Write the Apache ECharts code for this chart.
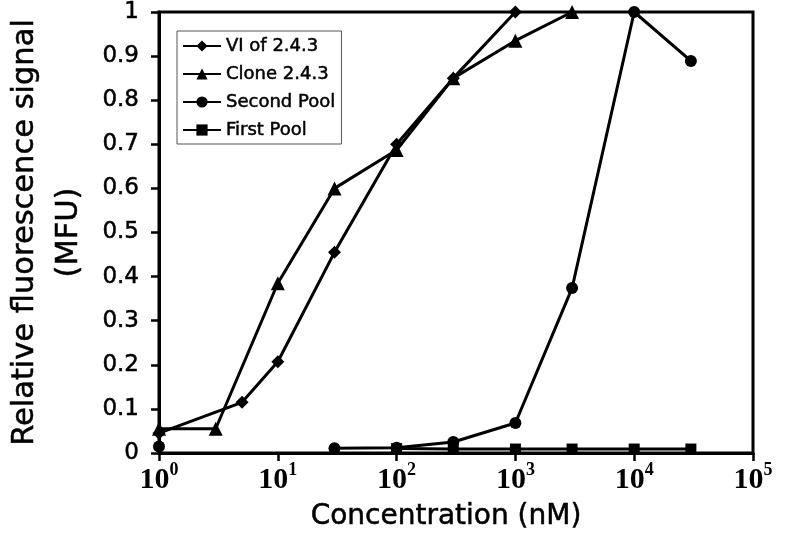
<!DOCTYPE html>
<html>
<head>
<meta charset="utf-8">
<script src="https://cdn.jsdelivr.net/npm/echarts@6/dist/echarts.min.js"></script>
<style>
html, body { margin: 0; padding: 0; background: #fff; }
#chart { width: 789px; height: 540px; }
</style>
</head>
<body>
<div id="chart"></div>
<script>
// concentrations (nM) and relative signal per series
const seriesNames = ['VI of 2.4.3', 'Clone 2.4.3', 'Second Pool', 'First Pool']

const xVI = [1, 5, 10, 30, 100, 300, 1000]
const yVI = [0.045, 0.115, 0.207, 0.455, 0.70, 0.85, 1.0]

const xClone = [1, 3, 10, 30, 100, 300, 1000, 3000]
const yClone = [0.055, 0.055, 0.385, 0.60, 0.687, 0.85, 0.935, 1.0]

// '-' marks the gap between the lone 1 nM point and the rest
const xSecond = [1, 5, 30, 100, 300, 1000, 3000, 10000, 30000]
const ySecond = [0.015, '-', 0.011, 0.012, 0.025, 0.068, 0.374, 1.0, 0.889]

const xFirst = [100, 300, 1000, 3000, 10000, 30000]
const yFirst = [0.01, 0.009, 0.009, 0.009, 0.009, 0.009]

const symbols = ['diamond', 'triangle', 'circle', 'rect']
const symbolSizes = [13, 14, 12, 11]

const zip = (xs, ys) => xs.map((x, i) => [x, ys[i]])
const seriesData = [zip(xVI, yVI), zip(xClone, yClone), zip(xSecond, ySecond), zip(xFirst, yFirst)]

// the original's sans text is a touch heavier than DejaVu regular
const heavy = { fontFamily: 'DejaVu Sans', color: '#000', textBorderColor: '#000', textBorderWidth: 0.5 }

const chart = echarts.init(document.getElementById('chart'))

chart.setOption({
    animation: false,
    backgroundColor: '#fff',
    grid: {
        left: 159, right: 36, top: 12, bottom: 87,
        outerBoundsMode: 'none',
        containLabel: false,
        show: true,
        borderColor: '#000',
        borderWidth: 3
    },
    legend: {
        data: seriesNames,
        orient: 'vertical',
        left: 177,
        top: 31,
        padding: [5, 6, 4, 5],
        itemGap: 8,
        itemWidth: 38,
        itemHeight: 14,
        borderColor: '#555',
        borderWidth: 1,
        backgroundColor: '#fff',
        textStyle: Object.assign({}, heavy, { fontSize: 18, lineHeight: 20 })
    },
    xAxis: {
        type: 'log',
        logBase: 10,
        min: 1,
        max: 100000,
        splitLine: { show: false },
        minorTick: { show: false },
        axisLine: { lineStyle: { color: '#000', width: 3 } },
        axisTick: { length: 8, lineStyle: { color: '#000', width: 2.5 } },
        axisLabel: {
            margin: 8,
            formatter: function (v) {
                return '{b|10}{s|' + Math.round(Math.log10(v)) + '}'
            },
            rich: {
                b: { fontFamily: 'Liberation Serif', fontWeight: 'bold', fontSize: 30, color: '#000', lineHeight: 34, verticalAlign: 'bottom' },
                s: { fontFamily: 'Liberation Serif', fontWeight: 'bold', fontSize: 18, color: '#000', lineHeight: 18, verticalAlign: 'top' }
            }
        },
        name: 'Concentration (nM)',
        nameLocation: 'middle',
        nameGap: 50,
        nameTextStyle: Object.assign({}, heavy, { fontSize: 28, padding: [0, 20, 0, 0] })
    },
    yAxis: {
        type: 'value',
        min: 0,
        max: 1,
        interval: 0.1,
        splitLine: { show: false },
        axisLine: { show: true, lineStyle: { color: '#000', width: 3 } },
        axisTick: { show: true, length: 8, lineStyle: { color: '#000', width: 2.5 } },
        axisLabel: Object.assign({}, heavy, { margin: 20, fontSize: 23 }),
        name: 'Relative fluorescence signal\n(MFU)',
        nameLocation: 'middle',
        nameGap: 68,
        nameTextStyle: Object.assign({}, heavy, { fontSize: 30.5, lineHeight: 44 })
    },
    series: seriesNames.map((name, i) => ({
        name: name,
        type: 'line',
        data: seriesData[i],
        symbol: symbols[i],
        symbolSize: symbolSizes[i],
        showAllSymbol: true,
        clip: false,
        connectNulls: false,
        lineStyle: { color: '#000', width: 3 },
        itemStyle: { color: '#000', borderWidth: 0 }
    }))
})
</script>
</body>
</html>
